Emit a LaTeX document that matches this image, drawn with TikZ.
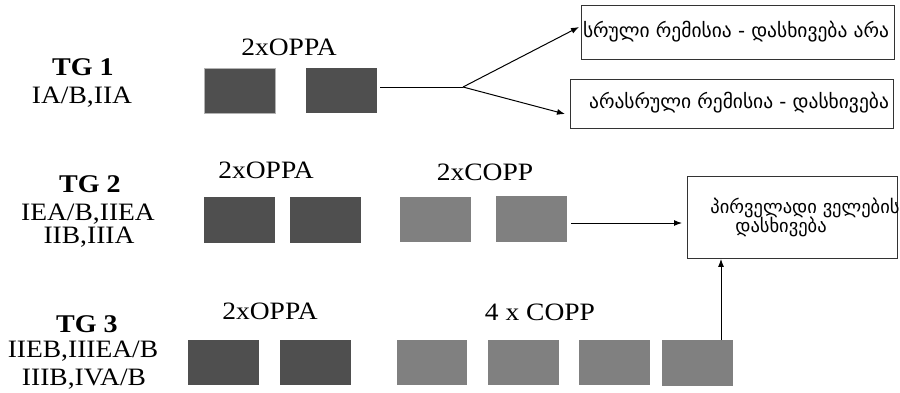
\documentclass[tikz,border=0pt]{standalone}
\usepackage{fontspec}
\setmainfont{Liberation Serif}[FakeStretch=1.1]
\newfontfamily\geo{DejaVu Sans}
\usetikzlibrary{arrows.meta}
\definecolor{darkbx}{RGB}{79,79,79}
\definecolor{lightbx}{RGB}{128,128,128}
\tikzset{
  darkbox/.style={fill=darkbx,draw=none,anchor=north west,inner sep=0pt,minimum width=71pt,minimum height=45pt},
  lightbox/.style={fill=lightbx,draw=none,anchor=north west,inner sep=0pt,minimum width=71pt,minimum height=45pt},
  lbl/.style={font=\fontsize{25}{25}\selectfont,inner sep=0pt,anchor=base,text height=17pt,text depth=3pt},
  tg/.style={font=\fontsize{25.5}{25}\selectfont\bfseries,inner sep=0pt,anchor=base,text height=17pt,text depth=3pt},
  geotxt/.style={font=\geo\fontsize{19.5}{20}\selectfont,inner sep=0pt,anchor=center},
  geosm/.style={font=\geo\fontsize{18.5}{20}\selectfont,inner sep=0pt,anchor=center},
  frame/.style={draw=black!80,line width=0.9pt,fill=none},
  arr/.style={-{Latex[length=8pt,width=6pt]},line width=1pt}
}
\begin{document}
\begin{tikzpicture}[x=1pt,y=-1pt]
\useasboundingbox (0,0) rectangle (900,392);
% TG 1
\node[tg] (tg1) at (83,75) {TG 1};
\node[lbl] (tg1a) at (82,103) {IA/B,IIA};
\node[lbl] (t1) at (289,55) {2xOPPA};
\node[darkbox,draw=black!30,line width=0.6pt] (b11) at (204,68) {};
\node[darkbox] (b12) at (306,68) {};
% TG 2
\node[tg] (tg2) at (90,192) {TG 2};
\node[lbl] (tg2a) at (88,220) {IEA/B,IIEA};
\node[lbl] (tg2b) at (89,243) {IIB,IIIA};
\node[lbl] (t2) at (266,178) {2xOPPA};
\node[lbl] (t2c) at (485,180) {2xCOPP};
\node[darkbox,minimum height=46pt] (b21) at (204,197) {};
\node[darkbox,minimum height=46pt] (b22) at (290,197) {};
\node[lightbox] (b23) at (400,197) {};
\node[lightbox,minimum height=46pt] (b24) at (496,196) {};
% TG 3
\node[tg] (tg3) at (87,332) {TG 3};
\node[lbl] (tg3a) at (83,357) {IIEB,IIIEA/B};
\node[lbl] (tg3b) at (84,385) {IIIB,IVA/B};
\node[lbl] (t3) at (270,319) {2xOPPA};
\node[lbl] (t3c) at (540,320) {4 x COPP};
\node[darkbox] (b31) at (188,340) {};
\node[darkbox] (b32) at (280,340) {};
\node[lightbox,minimum width=70pt] (b33) at (397,340) {};
\node[lightbox] (b34) at (488,340) {};
\node[lightbox] (b35) at (579,340) {};
\node[lightbox,minimum height=46pt] (b36) at (662,340) {};
% result boxes
\node[frame,anchor=north west,minimum width=313pt,minimum height=54pt,inner sep=0pt] (r1) at (581,5) {};
\node[geotxt] (r1t) at (736,32) {სრული რემისია - დასხივება არა};
\node[frame,anchor=north west,minimum width=323pt,minimum height=49pt,inner sep=0pt] (r2) at (570,79) {};
\node[geotxt] (r2t) at (739,103) {არასრული რემისია - დასხივება};
\node[frame,anchor=north west,minimum width=210pt,minimum height=82pt,inner sep=0pt] (r3) at (687,176) {};
\node[geosm] (r3t) at (805,208) {პირველადი ველების};
\node[geosm] (r3u) at (781,227) {დასხივება};
% connectors
\coordinate (s1) at (380,87);
\coordinate (br) at (463,87);
\coordinate (e1) at (579,27);
\coordinate (e2) at (565,114);
\draw[line width=1pt] (s1) -- (br);
\draw[arr] (br) -- (e1);
\draw[arr] (br) -- (e2);
\coordinate (s2) at (571,223);
\coordinate (e3) at (682,223);
\draw[arr] (s2) -- (e3);
\coordinate (v1) at (721,340);
\draw[arr] (v1) -- (v1 |- r3.south);
\end{tikzpicture}
\end{document}
